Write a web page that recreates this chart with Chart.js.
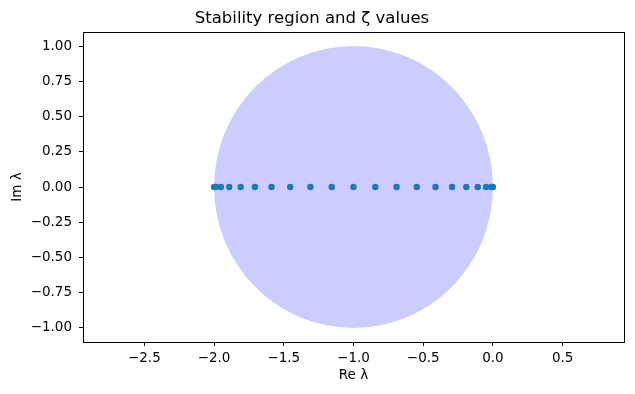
<!DOCTYPE html>
<html>
<head>
<meta charset="utf-8">
<script src="https://cdn.jsdelivr.net/npm/chart.js@4/dist/chart.umd.min.js"></script>
<style>
  html, body { margin: 0; padding: 0; background: #fff; }
  #wrap { width: 635px; height: 394px; }
</style>
</head>
<body>
<div id="wrap"><canvas id="chart" width="635" height="394"></canvas></div>
<script>
var zetaRe = [-2.0, -1.988, -1.951, -1.891, -1.809, -1.707, -1.588, -1.454, -1.309, -1.156, -1.0,
              -0.844, -0.691, -0.546, -0.412, -0.293, -0.191, -0.109, -0.049, -0.012, 0.0];
var zetaIm = [0, 0, 0, 0, 0, 0, 0, 0, 0, 0, 0, 0, 0, 0, 0, 0, 0, 0, 0, 0, 0];

// stability region: disc centred at -1 with radius 1
var regionCenter = [-1, 0];
var regionRadius = 1;

var xTicks = [-2.5, -2.0, -1.5, -1.0, -0.5, 0.0, 0.5];
var yTicks = [-1.0, -0.75, -0.5, -0.25, 0.0, 0.25, 0.5, 0.75, 1.0];
var xRange = [-2.94, 0.94];
var yRange = [-1.1, 1.1];

var FONT = "'DejaVu Sans', sans-serif";
var TICK_SIZE = 13.5;

function fmt(v, digits) {
    var s = Math.abs(v).toFixed(digits);
    return (v < 0 && Number(s) !== 0 ? "\u2212" : "") + s;
}

var points = zetaRe.map(function (re, i) { return { x: re, y: zetaIm[i] }; });

// draws the disc through the chart's own scales, plus the axes box
var regionPlugin = {
    id: "region",
    beforeDatasetsDraw: function (chart) {
        var xs = chart.scales.x, ys = chart.scales.y, ctx = chart.ctx, a = chart.chartArea;
        var cx = xs.getPixelForValue(regionCenter[0]);
        var cy = ys.getPixelForValue(regionCenter[1]);
        var rx = xs.getPixelForValue(regionCenter[0] + regionRadius) - cx;
        var ry = cy - ys.getPixelForValue(regionCenter[1] + regionRadius);
        ctx.save();
        ctx.beginPath();
        ctx.rect(a.left, a.top, a.right - a.left, a.bottom - a.top);
        ctx.clip();
        ctx.beginPath();
        ctx.ellipse(cx, cy, rx, ry, 0, 0, Math.PI * 2);
        ctx.fillStyle = "#ccccff";
        ctx.fill();
        ctx.restore();
    },
    afterDraw: function (chart) {
        var a = chart.chartArea, ctx = chart.ctx;
        ctx.save();
        ctx.strokeStyle = "#000";
        ctx.lineWidth = 1;
        ctx.strokeRect(Math.round(a.left) + 0.5, Math.round(a.top) + 0.5,
                       Math.round(a.right - a.left), Math.round(a.bottom - a.top));
        ctx.restore();
    }
};

new Chart(document.getElementById("chart"), {
    type: "scatter",
    data: {
        datasets: [{
            label: "zeta",
            data: points,
            backgroundColor: "#1f77b4",
            borderColor: "#1f77b4",
            borderWidth: 0,
            pointRadius: 3.2,
            pointHoverRadius: 3.2
        }]
    },
    options: {
        responsive: false,
        animation: false,
        devicePixelRatio: 1,
        layout: { padding: { left: 0, right: 11, top: 0, bottom: 0 } },
        plugins: {
            legend: { display: false },
            tooltip: { enabled: false },
            title: {
                display: true,
                text: "Stability region and \u03b6 values",
                color: "#000",
                font: { family: FONT, size: 16.5, weight: "normal" },
                padding: { top: 8.5, bottom: 3.7 }
            }
        },
        scales: {
            x: {
                type: "linear",
                position: "bottom",
                min: xRange[0],
                max: xRange[1],
                afterBuildTicks: function (s) { s.ticks = xTicks.map(function (v) { return { value: v }; }); },
                afterFit: function (s) { s.height = 52; },
                grid: { display: true, drawOnChartArea: false, drawTicks: true, tickLength: 4, color: "#000" },
                border: { display: true, color: "#000" },
                ticks: {
                    color: "#000",
                    font: { family: FONT, size: TICK_SIZE },
                    padding: 4,
                    maxRotation: 0,
                    callback: function (v) { return fmt(v, 1); }
                },
                title: {
                    display: true,
                    text: "Re \u03bb",
                    color: "#000",
                    font: { family: FONT, size: TICK_SIZE },
                    padding: { top: 0, bottom: 10 }
                }
            },
            y: {
                type: "linear",
                position: "left",
                min: yRange[0],
                max: yRange[1],
                afterBuildTicks: function (s) { s.ticks = yTicks.map(function (v) { return { value: v }; }); },
                afterFit: function (s) { s.width = 83; },
                grid: { display: true, drawOnChartArea: false, drawTicks: true, tickLength: 4, color: "#000" },
                border: { display: true, color: "#000" },
                ticks: {
                    color: "#000",
                    font: { family: FONT, size: TICK_SIZE },
                    padding: 7,
                    callback: function (v) { return fmt(v, 2); }
                },
                title: {
                    display: true,
                    text: "Im \u03bb",
                    color: "#000",
                    font: { family: FONT, size: TICK_SIZE },
                    padding: { top: 9, bottom: 0 }
                }
            }
        }
    },
    plugins: [regionPlugin]
});
</script>
</body>
</html>
